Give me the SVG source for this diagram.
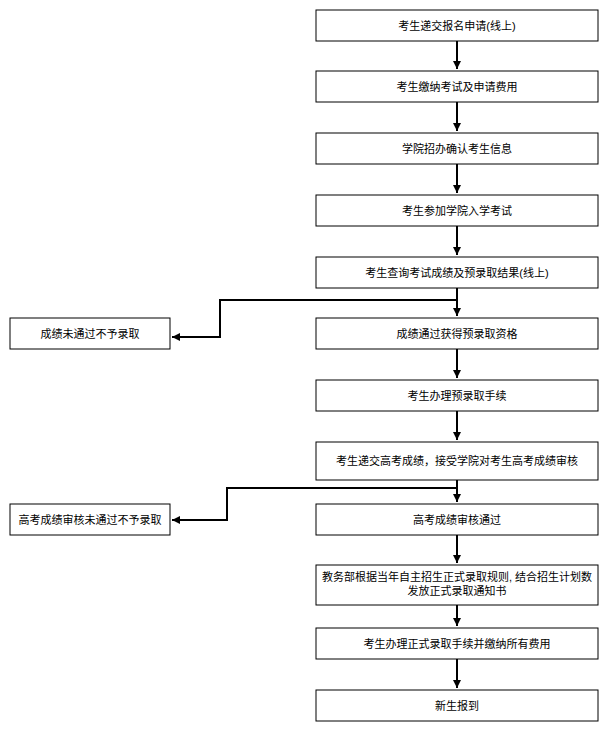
<svg xmlns="http://www.w3.org/2000/svg" width="613" height="734" viewBox="0 0 613 734">
<defs>
<style>
.b{fill:#fff;stroke:#000;stroke-width:1}
.t{font-family:"Liberation Sans","Noto Sans CJK SC",sans-serif;font-size:11px;fill:#000;text-anchor:middle}
.c{fill:none;stroke:#000;stroke-width:2}
</style>
<marker id="a" viewBox="0 0 10 10" refX="10" refY="5" markerWidth="4" markerHeight="4" orient="auto" markerUnits="strokeWidth"><path d="M0,0L10,5L0,10z" fill="#000"/></marker>
</defs>
<rect width="613" height="734" fill="#fff"/>
<g id="connectors">
<path class="c" d="M457,41V69" marker-end="url(#a)"/>
<path class="c" d="M457,102V131" marker-end="url(#a)"/>
<path class="c" d="M457,164V193" marker-end="url(#a)"/>
<path class="c" d="M457,226V255" marker-end="url(#a)"/>
<path class="c" d="M457,288V316" marker-end="url(#a)"/>
<path class="c" d="M457,300H220V337H172" marker-end="url(#a)"/>
<path class="c" d="M457,349V378" marker-end="url(#a)"/>
<path class="c" d="M457,411V440" marker-end="url(#a)"/>
<path class="c" d="M457,480V502" marker-end="url(#a)"/>
<path class="c" d="M457,488H227V520H172" marker-end="url(#a)"/>
<path class="c" d="M457,535V563" marker-end="url(#a)"/>
<path class="c" d="M457,605V626" marker-end="url(#a)"/>
<path class="c" d="M457,659V688" marker-end="url(#a)"/>
</g>
<g id="n1"><rect class="b" x="316" y="10" width="282" height="31"/><text class="t" x="457" y="29.5">考生递交报名申请(线上)</text></g>
<g id="n2"><rect class="b" x="316" y="71" width="282" height="31"/><text class="t" x="457" y="90.5">考生缴纳考试及申请费用</text></g>
<g id="n3"><rect class="b" x="316" y="133" width="282" height="31"/><text class="t" x="457" y="152.5">学院招办确认考生信息</text></g>
<g id="n4"><rect class="b" x="316" y="195" width="282" height="31"/><text class="t" x="457" y="214.5">考生参加学院入学考试</text></g>
<g id="n5"><rect class="b" x="316" y="257" width="282" height="31"/><text class="t" x="457" y="276.5">考生查询考试成绩及预录取结果(线上)</text></g>
<g id="n6"><rect class="b" x="316" y="318" width="282" height="31"/><text class="t" x="457" y="337.5">成绩通过获得预录取资格</text></g>
<g id="n7"><rect class="b" x="10" y="318" width="160" height="31"/><text class="t" x="90" y="337.5">成绩未通过不予录取</text></g>
<g id="n8"><rect class="b" x="316" y="380" width="282" height="31"/><text class="t" x="457" y="399.5">考生办理预录取手续</text></g>
<g id="n9"><rect class="b" x="316" y="442" width="282" height="38"/><text class="t" x="457" y="464.5">考生递交高考成绩，接受学院对考生高考成绩审核</text></g>
<g id="n10"><rect class="b" x="316" y="504" width="282" height="31"/><text class="t" x="457" y="523.5">高考成绩审核通过</text></g>
<g id="n11"><rect class="b" x="10" y="504" width="160" height="31"/><text class="t" x="90" y="523.5">高考成绩审核未通过不予录取</text></g>
<g id="n12"><rect class="b" x="316" y="565" width="282" height="40"/><text class="t" x="457" y="580.5">教务部根据当年自主招生正式录取规则, 结合招生计划数</text><text class="t" x="457" y="594.5">发放正式录取通知书</text></g>
<g id="n13"><rect class="b" x="316" y="628" width="282" height="31"/><text class="t" x="457" y="647.5">考生办理正式录取手续并缴纳所有费用</text></g>
<g id="n14"><rect class="b" x="316" y="690" width="282" height="31"/><text class="t" x="457" y="709.5">新生报到</text></g>
</svg>
